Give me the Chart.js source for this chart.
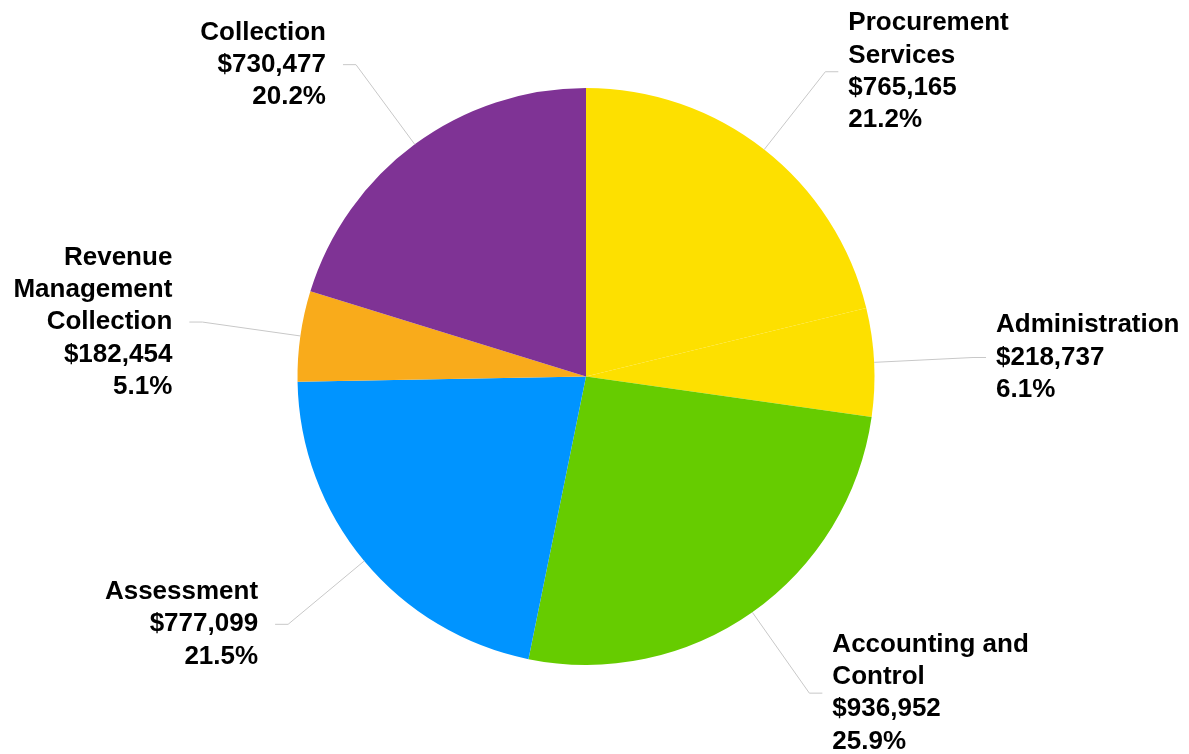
<!DOCTYPE html>
<html>
<head>
<meta charset="utf-8">
<script src="https://cdn.jsdelivr.net/npm/chart.js@4.4.1/dist/chart.umd.min.js"></script>
<style>
  html, body { margin: 0; padding: 0; background: #fff; }
  #wrap { width: 1189px; height: 754px; }
</style>
</head>
<body>
<div id="wrap"><canvas id="pie" width="1189" height="754"></canvas></div>
<script>
// slice names, one entry per line of the label
const categories = [
    ['Procurement', 'Services'],
    ['Administration'],
    ['Accounting and', 'Control'],
    ['Assessment'],
    ['Revenue', 'Management', 'Collection'],
    ['Collection']
];
const amounts = [765165, 218737, 936952, 777099, 182454, 730477];
const sliceColors = ['#FDE000', '#FDE000', '#66CC00', '#0094FF', '#F9AB1B', '#7F3395'];

const total = amounts.reduce((a, b) => a + b, 0);

//draws the leader lines and the bold labels next to every slice
const calloutPlugin = {
    id: 'callouts',
    afterDatasetsDraw(chart) {
        const ctx = chart.ctx;
        const meta = chart.getDatasetMeta(0);
        ctx.save();
        ctx.font = 'bold 26px "Liberation Sans", Arial, sans-serif';
        ctx.textBaseline = 'middle';
        ctx.fillStyle = '#000';
        meta.data.forEach((arc, i) => {
            const p = arc.getProps(['x', 'y', 'startAngle', 'endAngle', 'outerRadius'], true);
            const mid = (p.startAngle + p.endAngle) / 2;
            const cx = Math.cos(mid), cy = Math.sin(mid);
            const right = cx >= 0;
            const x0 = p.x + p.outerRadius * cx, y0 = p.y + p.outerRadius * cy;
            const x1 = p.x + (p.outerRadius + 99) * cx, y1 = p.y + (p.outerRadius + 99) * cy;
            const x2 = x1 + (right ? 13 : -13);
            ctx.strokeStyle = '#c8c8c8';
            ctx.lineWidth = 1;
            ctx.beginPath();
            ctx.moveTo(x0, y0);
            ctx.lineTo(x1, y1);
            ctx.lineTo(x2, y1);
            ctx.stroke();

            const pct = (amounts[i] / total * 100).toFixed(1) + '%';
            const lines = categories[i].concat(['$' + amounts[i].toLocaleString('en-US'), pct]);
            const lh = 32.3;
            const top = y1 - (lines.length - 1) * lh / 2;
            ctx.textAlign = right ? 'left' : 'right';
            const tx = right ? x2 + 10 : x2 - 17;
            lines.forEach((t, k) => ctx.fillText(t, tx, top + k * lh));
        });
        ctx.restore();
    }
};

new Chart(document.getElementById('pie'), {
    type: 'pie',
    data: {
        labels: categories,
        datasets: [{
            data: amounts,
            backgroundColor: sliceColors,
            borderWidth: 0
        }]
    },
    options: {
        responsive: false,
        animation: false,
        layout: { padding: { top: 88, bottom: 89, left: 0, right: 17 } },
        plugins: {
            legend: { display: false },
            tooltip: { enabled: false }
        }
    },
    plugins: [calloutPlugin]
});
</script>
</body>
</html>
